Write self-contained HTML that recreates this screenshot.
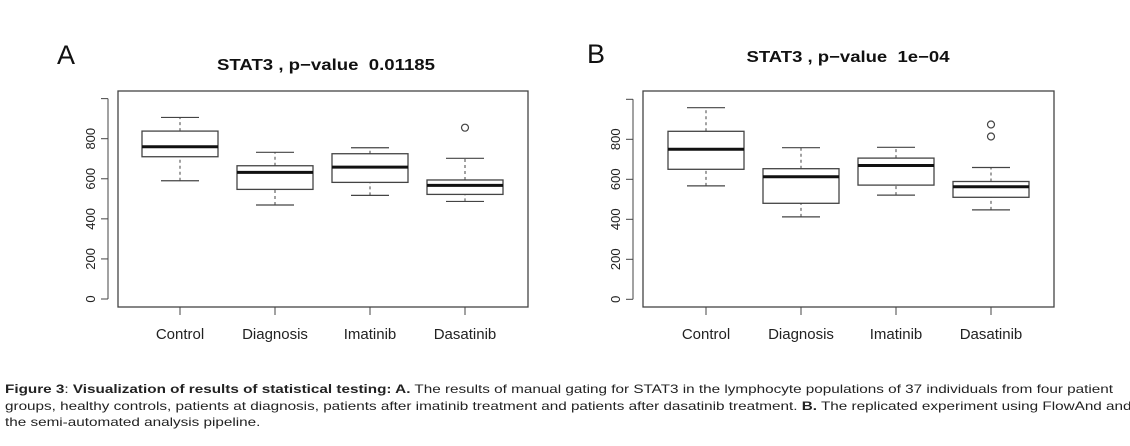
<!DOCTYPE html>
<html><head><meta charset="utf-8"><style>
body{margin:0;width:1130px;height:446px;background:#fff;overflow:hidden;font-family:"Liberation Sans",Arial,sans-serif}
#cap{position:absolute;left:5px;top:381px;font-size:12px;line-height:16.5px;color:#222;white-space:nowrap;transform:scaleX(1.272);transform-origin:0 0}
</style></head><body>
<svg id="chart" width="1130" height="446" style="position:absolute;left:0;top:0"></svg>
<div id="cap"><b>Figure 3</b>: <b>Visualization of results of statistical testing: A.</b> The results of manual gating for STAT3 in the lymphocyte populations of 37 individuals from four patient<br>groups, healthy controls, patients at diagnosis, patients after imatinib treatment and patients after dasatinib treatment. <b>B.</b> The replicated experiment using FlowAnd and<br>the semi-automated analysis pipeline.</div>
<script>
const categories=["Control","Diagnosis","Imatinib","Dasatinib"];
const yTicks=[0,200,400,600,800,1000];
const yTickLabels=["0","200","400","600","800",""];
// [lowWhisker,Q1,median,Q3,highWhisker]
const statsA=[[590,710,760,838,906],[469,547,632,665,732],[517,582,658,725,755],[487,522,567,594,702]];
const outliersA=[[],[],[],[855]];
const statsB=[[567,650,750,840,958],[412,480,613,653,758],[521,571,669,706,760],[447,510,563,589,659]];
const outliersB=[[],[],[],[874,814]];
const titleA="STAT3 , p\u2212value\u00a0\u00a00.01185";
const titleB="STAT3 , p\u2212value\u00a0\u00a01e\u221204";

const svg=document.getElementById('chart');
const NS='http://www.w3.org/2000/svg';
function mk(tag,attrs,parent){const e=document.createElementNS(NS,tag);for(const k in attrs)e.setAttribute(k,attrs[k]);(parent||svg).appendChild(e);return e;}

function panel(cfg){
  const g=mk('g',{});
  
  
  const y=v=>cfg.y0-(v/800)*(cfg.y0-cfg.y800);
  const x=i=>cfg.cx0+i*cfg.step;
  const L=mk('text',{x:cfg.letterX,y:cfg.letterY,'font-size':27,fill:'#111'},g);L.textContent=cfg.letter;
  
  
  const t=mk('text',{x:cfg.titleX,y:cfg.titleY,'font-size':15.5,'font-weight':'bold','text-anchor':'middle',fill:'#111',textLength:cfg.titleW,lengthAdjust:'spacingAndGlyphs'},g);t.textContent=cfg.title;
  
  
  const f=mk('rect',{x:cfg.fx1,y:cfg.fy1,width:cfg.fx2-cfg.fx1,height:cfg.fy2-cfg.fy1,fill:'none',stroke:'#444','stroke-width':1.3},g);
  
  
  const ax=mk('g',{},g);
  
  
  mk('line',{x1:cfg.axX,x2:cfg.axX,y1:y(0),y2:y(1000),stroke:'#444','stroke-width':1},ax);
  yTicks.forEach((v,i)=>{
    mk('line',{x1:cfg.axX-7,x2:cfg.axX,y1:y(v),y2:y(v),stroke:'#444','stroke-width':1},ax);
    if(yTickLabels[i]){const tx=mk('text',{x:0,y:0,'font-size':13,fill:'#222','text-anchor':'middle',transform:`translate(${cfg.axX-13},${y(v)}) rotate(-90)`},ax);tx.textContent=yTickLabels[i];
      
      }
  });
  categories.forEach((c,i)=>{
    const cx=x(i);
    mk('line',{x1:cx,x2:cx,y1:cfg.fy2,y2:cfg.fy2+8,stroke:'#444','stroke-width':1},g);
    const lb=mk('text',{x:cx,y:cfg.fy2+32,'font-size':15,fill:'#222','text-anchor':'middle'},g);lb.textContent=c;
    
    
    const s=cfg.stats[i];const hw=38,ww=19;
    const b=mk('g',{},g);
    
    
    mk('line',{x1:cx,x2:cx,y1:y(s[0]),y2:y(s[1]),stroke:'#444','stroke-dasharray':'3,3'},b);
    mk('line',{x1:cx,x2:cx,y1:y(s[3]),y2:y(s[4]),stroke:'#444','stroke-dasharray':'3,3'},b);
    mk('line',{x1:cx-ww,x2:cx+ww,y1:y(s[0]),y2:y(s[0]),stroke:'#444','stroke-width':1.2},b);
    mk('line',{x1:cx-ww,x2:cx+ww,y1:y(s[4]),y2:y(s[4]),stroke:'#444','stroke-width':1.2},b);
    mk('rect',{x:cx-hw,y:y(s[3]),width:2*hw,height:y(s[1])-y(s[3]),fill:'#fff',stroke:'#444','stroke-width':1.3},b);
    mk('line',{x1:cx-hw,x2:cx+hw,y1:y(s[2]),y2:y(s[2]),stroke:'#111','stroke-width':3},b);
    cfg.out[i].forEach(o=>{const p=mk('circle',{cx:cx,cy:y(o),r:3.5,fill:'none',stroke:'#444','stroke-width':1.2},b);
      
      });
  });
}
panel({name:'panel-a',letter:'A',letterX:57,letterY:64,title:titleA,titleX:326,titleY:70,titleW:218,fx1:118,fx2:528,fy1:91,fy2:307,axX:108,y0:299,y800:138.7,cx0:180,step:95,stats:statsA,out:outliersA});
panel({name:'panel-b',letter:'B',letterX:587,letterY:63,title:titleB,titleX:848,titleY:62,titleW:203,fx1:643,fx2:1054,fy1:91,fy2:307,axX:633,y0:299.3,y800:139.3,cx0:706,step:95,stats:statsB,out:outliersB});
</script>
</body></html>
